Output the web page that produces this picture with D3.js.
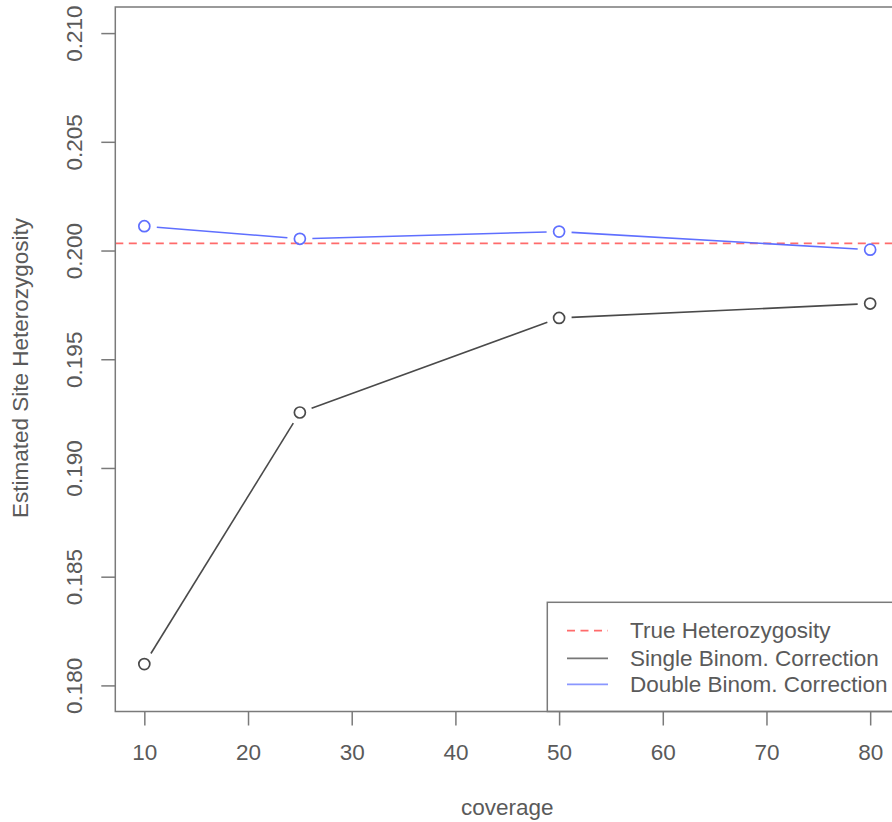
<!DOCTYPE html>
<html>
<head>
<meta charset="utf-8">
<script src="https://cdn.jsdelivr.net/npm/d3@7"></script>
<style>
  html, body { margin: 0; padding: 0; background: #fff; overflow: hidden; }
  svg { display: block; font-family: "Liberation Sans", Arial, Helvetica, sans-serif; }
</style>
</head>
<body>
<svg id="chart" width="892" height="822"></svg>
<script>
// ---- data ----
const coverage = [10, 25, 50, 80];
const singleBinom = [0.18098, 0.19255, 0.19690, 0.19756];
const doubleBinom = [0.20112, 0.20054, 0.20087, 0.20004];
const trueHet = 0.20033;
const yTicks = [0.180, 0.185, 0.190, 0.195, 0.200, 0.205, 0.210];
const xTicks = [10, 20, 30, 40, 50, 60, 70, 80];
const legendLabels = ["True Heterozygosity", "Single Binom. Correction", "Double Binom. Correction"];
const xLabel = "coverage";
const yLabel = "Estimated Site Heterozygosity";

// ---- layout ----
const box = { left: 115.3, top: 7, right: 899.2, bottom: 711.5 };
const pad = 0.04;
const xDom = [10, 80], yDom = [0.180, 0.210];
const xr = xDom[1] - xDom[0], yr = yDom[1] - yDom[0];
const x = d3.scaleLinear().domain([xDom[0] - pad * xr, xDom[1] + pad * xr]).range([box.left, box.right]);
const y = d3.scaleLinear().domain([yDom[0] - pad * yr, yDom[1] + pad * yr]).range([box.bottom, box.top]);

const svg = d3.select("#chart");
const axisCol = "#7a7a7a", textCol = "#5a5a5a";
const fs = 22.5;

// x axis
const xAxis = d3.axisBottom(x).tickValues(xTicks).tickSize(14).tickPadding(14).tickFormat(d3.format("d"));
const gx = svg.append("g").attr("transform", `translate(0,${box.bottom})`).call(xAxis);
gx.select(".domain").remove();
gx.selectAll(".tick line").attr("stroke", axisCol).attr("stroke-width", 1.5);
gx.selectAll(".tick text").attr("fill", textCol).attr("font-size", fs)
  .attr("font-family", "Liberation Sans, Arial, sans-serif").attr("dy", null)
  .attr("y", 752.7 - box.bottom).attr("dominant-baseline", "central");

// y axis
const yAxis = d3.axisLeft(y).tickValues(yTicks).tickSize(14).tickFormat(d3.format(".3f"));
const gy = svg.append("g").attr("transform", `translate(${box.left},0)`).call(yAxis);
gy.select(".domain").remove();
gy.selectAll(".tick line").attr("stroke", axisCol).attr("stroke-width", 1.5);
gy.selectAll(".tick text").attr("fill", textCol).attr("font-size", fs)
  .attr("font-family", "Liberation Sans, Arial, sans-serif")
  .attr("x", null).attr("dy", null)
  .attr("text-anchor", "middle").attr("dominant-baseline", "central")
  .attr("transform", `translate(${74.5 - box.left},0) rotate(-90)`);

// axis titles
svg.append("text").attr("x", (box.left + box.right) / 2).attr("y", 807.7)
  .attr("text-anchor", "middle").attr("dominant-baseline", "central")
  .attr("fill", textCol).attr("font-size", fs).text(xLabel);
svg.append("text").attr("transform", `translate(20.7,368) rotate(-90)`)
  .attr("text-anchor", "middle").attr("dominant-baseline", "central")
  .attr("fill", textCol).attr("font-size", fs).text(yLabel);

// true heterozygosity line
const redCol = "#ff6b6b", blackCol = "#4a4a4a", blueCol = "#5f6fff";
svg.append("line").attr("x1", box.left).attr("x2", box.right)
  .attr("y1", y(trueHet)).attr("y2", y(trueHet))
  .attr("stroke", redCol).attr("stroke-width", 1.7).attr("stroke-dasharray", "8,5.5");

// type="b" series with gaps around points
function drawSeries(vals, col) {
  const pts = coverage.map((c, i) => [x(c), y(vals[i])]);
  const gap = 12.5;
  const g = svg.append("g");
  for (let i = 0; i < pts.length - 1; i++) {
    const [x1, y1] = pts[i], [x2, y2] = pts[i + 1];
    const dx = x2 - x1, dy = y2 - y1, L = Math.hypot(dx, dy);
    if (L <= 2 * gap) continue;
    const ux = dx / L, uy = dy / L;
    g.append("line")
      .attr("x1", x1 + ux * gap).attr("y1", y1 + uy * gap)
      .attr("x2", x2 - ux * gap).attr("y2", y2 - uy * gap)
      .attr("stroke", col).attr("stroke-width", 1.6);
  }
  g.selectAll("circle").data(pts).enter().append("circle")
    .attr("cx", d => d[0]).attr("cy", d => d[1]).attr("r", 5.5)
    .attr("fill", "none").attr("stroke", col).attr("stroke-width", 1.7);
}
drawSeries(singleBinom, blackCol);
drawSeries(doubleBinom, blueCol);

// legend
const leg = { left: 547.3, top: 602.3, right: box.right, bottom: box.bottom };
svg.append("rect").attr("x", leg.left).attr("y", leg.top)
  .attr("width", leg.right - leg.left).attr("height", leg.bottom - leg.top)
  .attr("fill", "#fff").attr("stroke", axisCol).attr("stroke-width", 1.5);
const rowsY = [630.7, 658.3, 684.3];
const legCols = [redCol, "#777777", "#8a97ff"];
const legDash = ["8,5.5", null, null];
legendLabels.forEach((lab, i) => {
  svg.append("line").attr("x1", 567).attr("x2", 608).attr("y1", rowsY[i]).attr("y2", rowsY[i])
    .attr("stroke", legCols[i]).attr("stroke-width", 1.8)
    .attr("stroke-dasharray", legDash[i]);
  svg.append("text").attr("x", 630).attr("y", rowsY[i]).attr("dominant-baseline", "central")
    .attr("fill", textCol).attr("font-size", fs).text(lab);
});

// plot box
svg.append("rect").attr("x", box.left).attr("y", box.top)
  .attr("width", box.right - box.left).attr("height", box.bottom - box.top)
  .attr("fill", "none").attr("stroke", axisCol).attr("stroke-width", 1.5);
</script>
</body>
</html>
